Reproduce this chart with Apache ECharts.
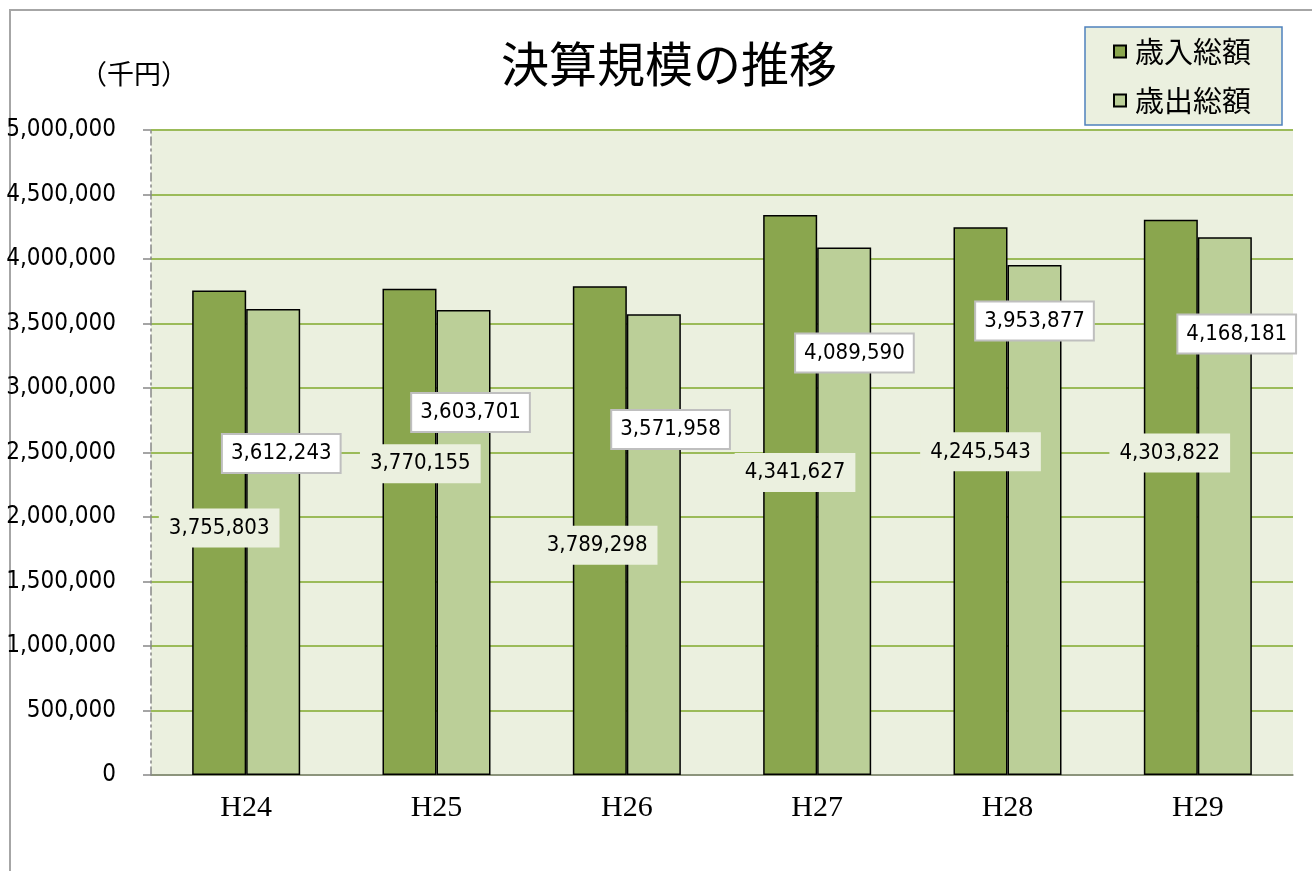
<!DOCTYPE html>
<html>
<head>
<meta charset="utf-8">
<script src="https://cdn.jsdelivr.net/npm/echarts@6/dist/echarts.min.js"></script>
<style>
  html, body { margin: 0; padding: 0; background: #fff; }
  #chart { width: 1312px; height: 871px; }
</style>
</head>
<body>
<div id="chart"></div>
<script>
const years = ["H24", "H25", "H26", "H27", "H28", "H29"];
const revenue = [3755803, 3770155, 3789298, 4341627, 4245543, 4303822];
const expenditure = [3612243, 3603701, 3571958, 4089590, 3953877, 4168181];

// where Excel dropped each data label, as % of the bar box
const revenueLabelAt = [[50, 49], [70, 36], [45, 53], [59, 46], [50, 41], [48, 42]];
const expenditureLabelAt = [[65, 31], [63, 22], [81, 25], [69, 20], [50, 11], [72, 18]];

const plotBg = "#EBF0DF";
const narrow = "'Liberation Sans Narrow', 'DejaVu Sans Condensed', sans-serif";

const fmt = (v) => Number(v).toLocaleString("en-US");

const makeData = (values, pos) =>
  values.map((v, i) => ({
    value: v,
    label: { position: [pos[i][0] + "%", pos[i][1] + "%"] }
  }));

const chart = echarts.init(document.getElementById("chart"));

const option = {
  animation: false,
  backgroundColor: "#fff",
  graphic: [
    {
      type: "rect",
      shape: { x: 10, y: 10, width: 1400, height: 1000 },
      style: { fill: "none", stroke: "#A6A6A6", lineWidth: 2 },
      z: -10
    },
    {
      type: "text",
      left: 80,
      top: 60,
      style: { text: "（千円）", font: "27px 'Noto Sans CJK JP'", fill: "#000" }
    }
  ],
  title: {
    text: "決算規模の推移",
    left: 496,
    top: 35,
    textStyle: {
      fontFamily: "'Noto Sans CJK JP'",
      fontSize: 48,
      fontWeight: "normal",
      color: "#000"
    }
  },
  legend: {
    orient: "vertical",
    left: 1085,
    top: 27,
    padding: [10, 31, 10, 28],
    itemGap: 20,
    itemWidth: 12,
    itemHeight: 12,
    icon: "rect",
    backgroundColor: plotBg,
    borderColor: "#4F81BD",
    borderWidth: 1.5,
    textStyle: {
      fontFamily: "'Noto Sans CJK JP'",
      fontSize: 29,
      color: "#000",
      padding: [0, 0, 0, 4]
    },
    data: ["歳入総額", "歳出総額"]
  },
  grid: {
    left: 151,
    right: 19,
    top: 130,
    bottom: 96,
    show: true,
    backgroundColor: plotBg,
    borderWidth: 0
  },
  xAxis: {
    type: "category",
    data: years,
    axisLine: { lineStyle: { color: "#888", width: 1.5 } },
    axisTick: { length: 9, lineStyle: { color: "#888", width: 1.5 } },
    axisLabel: {
      margin: 18,
      fontFamily: "'Liberation Serif', serif",
      fontSize: 30,
      color: "#000"
    }
  },
  yAxis: {
    type: "value",
    min: 0,
    max: 5000000,
    interval: 500000,
    axisLine: {
      show: true,
      lineStyle: { color: "#888", width: 1.5, type: [8, 4, 2, 4] }
    },
    axisTick: { show: true, length: 8, lineStyle: { color: "#888", width: 1.5 } },
    axisLabel: {
      margin: 35,
      fontFamily: narrow,
      fontSize: 24,
      color: "#000",
      formatter: fmt
    },
    splitLine: { lineStyle: { color: "#9BBB59", width: 2 } }
  },
  series: [
    {
      name: "歳入総額",
      type: "bar",
      data: makeData(revenue, revenueLabelAt),
      barWidth: 54,
      barGap: "0%",
      itemStyle: { color: "#8AA64E", borderColor: "#000", borderWidth: 1.5 },
      label: {
        show: true,
        align: "center",
        verticalAlign: "middle",
        formatter: (p) => fmt(p.value),
        fontFamily: narrow,
        fontSize: 22,
        color: "#000",
        backgroundColor: plotBg,
        padding: [9, 10, 8, 10]
      }
    },
    {
      name: "歳出総額",
      type: "bar",
      data: makeData(expenditure, expenditureLabelAt),
      barWidth: 54,
      itemStyle: { color: "#BBCF98", borderColor: "#000", borderWidth: 1.5 },
      label: {
        show: true,
        align: "center",
        verticalAlign: "middle",
        formatter: (p) => fmt(p.value),
        fontFamily: narrow,
        fontSize: 22,
        color: "#000",
        backgroundColor: "#fff",
        borderColor: "#BFBFBF",
        borderWidth: 2,
        padding: [8, 8, 7, 8]
      }
    }
  ]
};

chart.setOption(option);
</script>
</body>
</html>
